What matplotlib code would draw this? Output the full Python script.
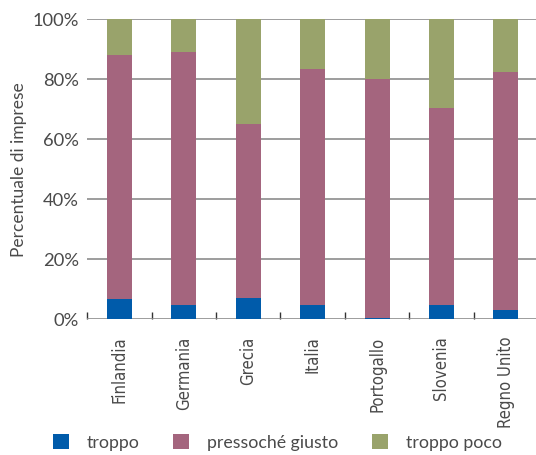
import matplotlib
matplotlib.use("Agg")
import matplotlib.pyplot as plt
import numpy as np
from matplotlib.patches import Patch

countries = ["Finlandia", "Germania", "Grecia", "Italia", "Portogallo", "Slovenia", "Regno Unito"]
troppo = [6.7, 4.7, 7.0, 4.7, 0.3, 4.7, 3.0]
pressoche_giusto = [81.3, 84.3, 58.0, 78.6, 79.7, 65.6, 79.3]
troppo_poco = [12.0, 11.0, 35.0, 16.7, 20.0, 29.7, 17.7]
series_names = ["troppo", "pressoché giusto", "troppo poco"]
yticks = [0, 20, 40, 60, 80, 100]
ytick_labels = ["0%", "20%", "40%", "60%", "80%", "100%"]

colors = ["#005BAA", "#A4657E", "#99A36B"]
text_color = "#4a4a4a"
grid_color = "#8c8c8c"

W, H = 536, 456
fig = plt.figure(figsize=(W / 100, H / 100), dpi=100)
ax = fig.add_axes([87.3 / W, 136 / H, 450.8 / W, 300 / H])

x = np.arange(len(countries))
bw = 0.39
bottom = np.zeros(len(countries))
for vals, col in zip([troppo, pressoche_giusto, troppo_poco], colors):
    ax.bar(x, vals, bw, bottom=bottom, color=col, zorder=3)
    bottom += np.array(vals)

ax.set_xlim(-0.5, 6.5)
ax.set_ylim(0, 100)

for s in ax.spines.values():
    s.set_visible(False)

ax.set_yticks(yticks)
ax.set_yticklabels(ytick_labels, fontfamily="Lato", fontsize=13.2, color=text_color)
ax.tick_params(axis="y", length=0, pad=6)
ax.yaxis.grid(True, color=grid_color, linewidth=1.2, zorder=1)
ax.set_axisbelow(True)

# boundary ticks between categories, labels at the category centres
ax.set_xticks(np.arange(-0.5, 7.0, 1.0))
ax.set_xticklabels([])
ax.tick_params(axis="x", which="major", direction="in", length=5, width=1.0, color="#333333")
ax.set_xticks(x, minor=True)
ax.set_xticklabels(countries, minor=True, rotation=90, fontfamily="DejaVu Sans",
                   fontstretch="condensed", fontsize=12.0, color=text_color,
                   va="top", ha="center")
ax.tick_params(axis="x", which="minor", length=0, pad=12)

ax.set_ylabel("Percentuale di imprese", fontfamily="Lato", fontsize=12.5, color=text_color, labelpad=4)

handles = [Patch(facecolor=c, edgecolor="none") for c in colors]
fig.legend(handles, series_names, loc="center left", bbox_to_anchor=(53 / W, 1 - 443 / H),
           ncol=3, frameon=False, borderpad=0, borderaxespad=0,
           handlelength=0.9, handleheight=0.9, handletextpad=1.0, columnspacing=1.9,
           prop={"family": "Lato", "size": 12.8}, labelcolor=text_color)

fig.savefig("out.png", dpi=100)
